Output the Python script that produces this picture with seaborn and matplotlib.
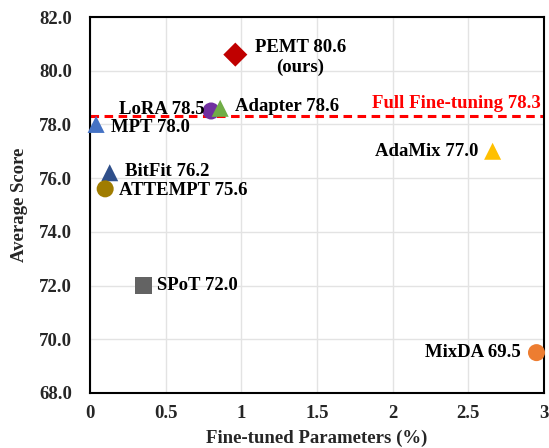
import matplotlib
matplotlib.use("Agg")
import matplotlib.pyplot as plt
import pandas as pd
import seaborn as sns

# data
methods = ["PEMT", "LoRA", "Adapter", "MPT", "BitFit", "ATTEMPT", "SPoT", "AdaMix", "MixDA"]
params_pct = [0.96, 0.80, 0.86, 0.04, 0.13, 0.10, 0.35, 2.66, 2.95]
avg_score = [80.6, 78.5, 78.6, 78.0, 76.2, 75.6, 72.0, 77.0, 69.5]
labels = ["PEMT 80.6\n(ours)", "LoRA 78.5", "Adapter 78.6", "MPT 78.0", "BitFit 76.2",
          "ATTEMPT 75.6", "SPoT 72.0", "AdaMix 77.0", "MixDA 69.5"]
full_ft = 78.3
x_ticks = [0, 0.5, 1, 1.5, 2, 2.5, 3]
x_tick_labels = ["0", "0.5", "1", "1.5", "2", "2.5", "3"]
y_ticks = [68, 70, 72, 74, 76, 78, 80, 82]

colors = {
    "PEMT": "#C00000", "LoRA": "#7030A0", "Adapter": "#70AD47", "MPT": "#4472C4",
    "BitFit": "#2F4F8A", "ATTEMPT": "#A07C00", "SPoT": "#636363", "AdaMix": "#FFC000",
    "MixDA": "#ED7D31",
}
markers = {
    "PEMT": "D", "LoRA": "o", "Adapter": "^", "MPT": "^", "BitFit": "^",
    "ATTEMPT": "o", "SPoT": "s", "AdaMix": "^", "MixDA": "o",
}
# label offsets in points, alignment
label_pos = {
    "PEMT": (47, -2, "center"), "LoRA": (-5, 1, "right"), "Adapter": (11, 1, "left"),
    "MPT": (11, -2, "left"), "BitFit": (11, 1, "left"), "ATTEMPT": (10, -1, "left"),
    "SPoT": (10, 0, "left"), "AdaMix": (-10, 0, "right"), "MixDA": (-11, 0, "right"),
}
FS = 13.5

df = pd.DataFrame({"method": methods, "params": params_pct, "score": avg_score, "label": labels})

sns.set_style("white")
plt.rcParams["font.family"] = ["Liberation Serif", "DejaVu Serif"]
plt.rcParams["font.weight"] = "bold"

fig = plt.figure(figsize=(5.49, 4.48), dpi=100)
ax = fig.add_axes([0.164, 0.123, 0.827, 0.839])

ax.axhline(full_ft, color="#FF0000", lw=2.2, ls=(0, (2.8, 1.8)), zorder=2)
ax.text(2.98, full_ft + 0.15, f"Full Fine-tuning {full_ft}", color="#FF0000",
        fontsize=FS, fontweight="bold", ha="right", va="bottom")

sns.scatterplot(data=df, x="params", y="score", hue="method", style="method",
                palette=colors, markers=markers, s=150, edgecolor="none",
                legend=False, ax=ax, zorder=3, clip_on=False)

for _, row in df.iterrows():
    dx, dy, ha = label_pos[row["method"]]
    ax.annotate(row["label"], (row["params"], row["score"]), xytext=(dx, dy),
                textcoords="offset points", ha=ha, va="center", fontsize=FS,
                fontweight="bold", color="black", multialignment="center",
                linespacing=1.2)

ax.set_xlim(0, 3)
ax.set_ylim(68, 82)
ax.set_xticks(x_ticks)
ax.set_xticklabels(x_tick_labels)
ax.set_yticks(y_ticks)
ax.set_yticklabels([f"{v:.1f}" for v in y_ticks])
ax.tick_params(axis="y", labelsize=FS, length=0, pad=13)
ax.tick_params(axis="x", labelsize=FS, length=0, pad=9)
ax.grid(True, color="#E3E3E3", lw=1.0)
ax.set_axisbelow(True)
for sp in ax.spines.values():
    sp.set_color("black")
    sp.set_linewidth(1.5)
ax.set_xlabel("Fine-tuned Parameters (%)", fontsize=FS, fontweight="bold", labelpad=5)
ax.set_ylabel("Average Score", fontsize=FS, fontweight="bold", labelpad=8)

fig.savefig("out.png", dpi=100)
